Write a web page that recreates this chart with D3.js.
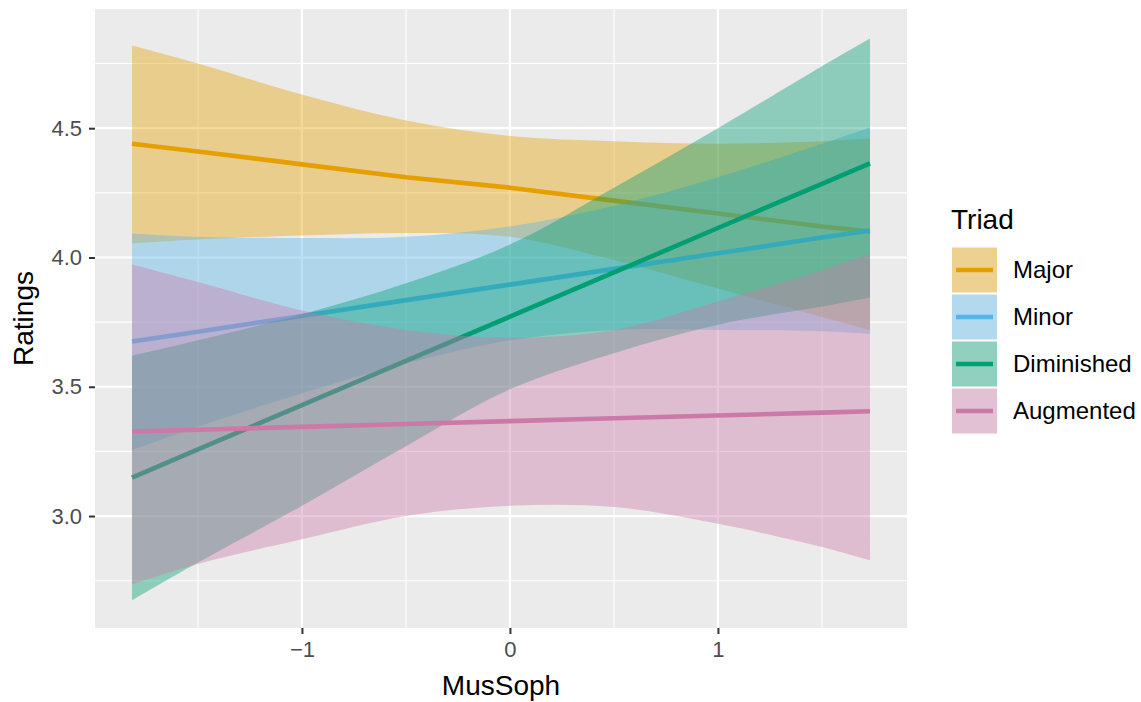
<!DOCTYPE html>
<html>
<head>
<meta charset="utf-8">
<script src="https://cdn.jsdelivr.net/npm/d3@7"></script>
<style>
  html, body { margin: 0; padding: 0; background: #ffffff; }
  svg { display: block; font-family: "Liberation Sans", Arial, Helvetica, sans-serif; }
</style>
</head>
<body>
<svg id="chart" width="1141" height="702"></svg>
<script>
// Musical sophistication (x) at which fitted ratings and confidence limits are given
const musSoph = [-1.817, -1.5, -1, -0.5, 0, 0.5, 1, 1.5, 1.731];

const triads = ["Major", "Minor", "Diminished", "Augmented"];
const triadColors = ["#E69F00", "#56B4E9", "#009E73", "#CC79A7"];

// Fitted ratings and 95% confidence band per triad
const majorFit   = [4.44, 4.41, 4.36, 4.31, 4.27, 4.22, 4.17, 4.12, 4.10];
const majorLower = [4.055, 4.07, 4.085, 4.095, 4.08, 3.99, 3.88, 3.77, 3.72];
const majorUpper = [4.82, 4.75, 4.63, 4.53, 4.47, 4.45, 4.44, 4.45, 4.46];

const minorFit   = [3.675, 3.713, 3.774, 3.835, 3.895, 3.956, 4.016, 4.077, 4.104];
const minorLower = [3.255, 3.345, 3.475, 3.59, 3.68, 3.72, 3.72, 3.715, 3.705];
const minorUpper = [4.093, 4.08, 4.075, 4.08, 4.12, 4.20, 4.31, 4.44, 4.503];

const diminishedFit   = [3.149, 3.258, 3.429, 3.600, 3.771, 3.942, 4.114, 4.285, 4.364];
const diminishedLower = [2.674, 2.82, 3.04, 3.27, 3.49, 3.63, 3.74, 3.81, 3.845];
const diminishedUpper = [3.62, 3.68, 3.78, 3.90, 4.05, 4.27, 4.50, 4.74, 4.847];

const augmentedFit   = [3.327, 3.334, 3.345, 3.356, 3.367, 3.378, 3.389, 3.400, 3.405];
const augmentedLower = [2.736, 2.815, 2.91, 3.00, 3.04, 3.035, 2.97, 2.88, 2.828];
const augmentedUpper = [3.973, 3.905, 3.795, 3.72, 3.69, 3.72, 3.83, 3.95, 4.015];

// Axis ticks
const xTicks = [-1, 0, 1];
const xMinor = [-1.5, -0.5, 0.5, 1.5];
const yTicks = [3.0, 3.5, 4.0, 4.5];
const yMinor = [2.75, 3.25, 3.75, 4.25, 4.75];

const fits   = [majorFit, minorFit, diminishedFit, augmentedFit];
const lowers = [majorLower, minorLower, diminishedLower, augmentedLower];
const uppers = [majorUpper, minorUpper, diminishedUpper, augmentedUpper];

const groups = triads.map((name, i) => ({
  name,
  color: triadColors[i],
  points: musSoph.map((x, j) => ({ x, fit: fits[i][j], lo: lowers[i][j], hi: uppers[i][j] }))
}));

// Layout
const panel = { left: 95, right: 907, top: 9, bottom: 628 };

const x = d3.scaleLinear().domain([-1.995, 1.909]).range([panel.left, panel.right]);
const y = d3.scaleLinear().domain([2.567, 4.961]).range([panel.bottom, panel.top]);

const svg = d3.select("#chart");

// Panel background
svg.append("rect")
  .attr("x", panel.left).attr("y", panel.top)
  .attr("width", panel.right - panel.left).attr("height", panel.bottom - panel.top)
  .attr("fill", "#EBEBEB");

const grid = svg.append("g");
// Minor gridlines
grid.selectAll(".ymin").data(yMinor).join("line")
  .attr("x1", panel.left).attr("x2", panel.right)
  .attr("y1", d => y(d)).attr("y2", d => y(d))
  .attr("stroke", "#ffffff").attr("stroke-width", 1.1);
grid.selectAll(".xmin").data(xMinor).join("line")
  .attr("y1", panel.top).attr("y2", panel.bottom)
  .attr("x1", d => x(d)).attr("x2", d => x(d))
  .attr("stroke", "#ffffff").attr("stroke-width", 1.1);
// Major gridlines
grid.selectAll(".ymaj").data(yTicks).join("line")
  .attr("x1", panel.left).attr("x2", panel.right)
  .attr("y1", d => y(d)).attr("y2", d => y(d))
  .attr("stroke", "#ffffff").attr("stroke-width", 2.2);
grid.selectAll(".xmaj").data(xTicks).join("line")
  .attr("y1", panel.top).attr("y2", panel.bottom)
  .attr("x1", d => x(d)).attr("x2", d => x(d))
  .attr("stroke", "#ffffff").attr("stroke-width", 2.2);

// Ribbons and fitted lines, one triad at a time
const band = d3.area()
  .x(d => x(d.x)).y0(d => y(d.lo)).y1(d => y(d.hi))
  .curve(d3.curveCatmullRom.alpha(0.5));
const fitLine = d3.line()
  .x(d => x(d.x)).y(d => y(d.fit));

const series = svg.append("g");
groups.forEach(g => {
  series.append("path")
    .attr("d", band(g.points))
    .attr("fill", g.color).attr("fill-opacity", 0.4);
  series.append("path")
    .attr("d", fitLine(g.points))
    .attr("fill", "none").attr("stroke", g.color)
    .attr("stroke-width", 4.6);
});

// Y axis
const yAxis = svg.append("g")
  .attr("transform", `translate(${panel.left},0)`)
  .call(d3.axisLeft(y).tickValues(yTicks).tickSize(6).tickPadding(7).tickFormat(d3.format(".1f")));
yAxis.select(".domain").remove();
yAxis.selectAll(".tick line").attr("stroke", "#333333").attr("stroke-width", 2);
yAxis.selectAll(".tick text")
  .attr("fill", "#4D4D4D").attr("font-size", 22)
  .attr("font-family", "Liberation Sans, Arial, sans-serif");

// X axis
const xAxis = svg.append("g")
  .attr("transform", `translate(0,${panel.bottom})`)
  .call(d3.axisBottom(x).tickValues(xTicks).tickSize(6).tickPadding(7)
    .tickFormat(d => d < 0 ? "\u2212" + Math.abs(d) : String(d)));
xAxis.select(".domain").remove();
xAxis.selectAll(".tick line").attr("stroke", "#333333").attr("stroke-width", 2);
xAxis.selectAll(".tick text")
  .attr("fill", "#4D4D4D").attr("font-size", 22)
  .attr("font-family", "Liberation Sans, Arial, sans-serif");

// Axis titles
svg.append("text")
  .attr("x", (panel.left + panel.right) / 2).attr("y", 695)
  .attr("text-anchor", "middle").attr("font-size", 28).attr("fill", "#000000")
  .text("MusSoph");
svg.append("text")
  .attr("transform", `translate(33,${(panel.top + panel.bottom) / 2}) rotate(-90)`)
  .attr("text-anchor", "middle").attr("font-size", 28).attr("fill", "#000000")
  .text("Ratings");

// Legend
const legend = svg.append("g").attr("transform", "translate(951,0)");
legend.append("text")
  .attr("x", 0).attr("y", 229)
  .attr("font-size", 28).attr("fill", "#000000")
  .text("Triad");

const keyTop = 246.5, keyH = 47, keyW = 47;
const keys = legend.selectAll(".key").data(groups).join("g")
  .attr("transform", (d, i) => `translate(0,${keyTop + i * keyH})`);
keys.append("rect")
  .attr("width", keyW).attr("height", keyH)
  .attr("fill", "#F2F2F2");
keys.append("rect")
  .attr("x", 0.5).attr("y", 0.5)
  .attr("width", keyW - 1).attr("height", keyH - 1)
  .attr("fill", d => d.color).attr("fill-opacity", 0.4)
  .attr("stroke", "#ffffff").attr("stroke-width", 1);
keys.append("line")
  .attr("x1", 5).attr("x2", keyW - 5)
  .attr("y1", keyH / 2).attr("y2", keyH / 2)
  .attr("stroke", d => d.color).attr("stroke-width", 4.6);
keys.append("text")
  .attr("x", 62).attr("y", keyH / 2)
  .attr("dy", "0.35em")
  .attr("font-size", 24).attr("fill", "#000000")
  .text(d => d.name);
</script>
</body>
</html>
